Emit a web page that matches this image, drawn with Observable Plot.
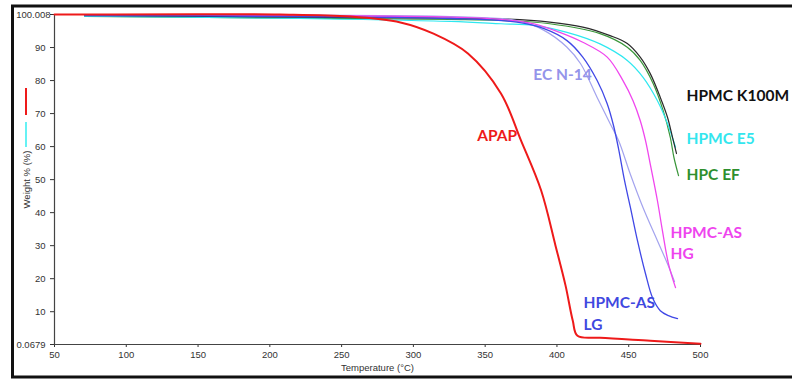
<!DOCTYPE html>
<html>
<head>
<meta charset="utf-8">
<script src="https://cdn.jsdelivr.net/npm/d3@7"></script>
<script src="https://cdn.jsdelivr.net/npm/@observablehq/plot@0.6"></script>
<style>
  html, body { margin: 0; padding: 0; background: #fff; }
  #wrap { position: relative; width: 792px; height: 380px; overflow: hidden; }
  #wrap > svg { position: absolute; left: 0; top: 0; }
</style>
</head>
<body>
<div id="wrap"></div>
<script>
// ---- data (Temperature °C, Weight %) ----
const apap = [[50,100],[207,100],[256,99.4],[291,97.6],[314,94.2],[338,88.2],[361,76.1],[375,61.8],[389,46.7],[399,30],[406,17.9],[411,7.3],[414.3,2.7],[430,2.1],[465,1.2],[500,0.3]];
const hpmcK100M = [[71,99.7],[221,99.2],[326,98.9],[361,98.7],[395,97.7],[418,96.2],[437,93.6],[449,91.2],[458,87.1],[465,82.1],[472,74.9],[477,68.9],[480.5,62.8],[483.3,57.9]];
const hpmcE5 = [[71,99.5],[221,98.8],[326,97.9],[361,97.2],[384,96.7],[407,94.6],[430,91.1],[449,86.1],[460,81],[470,73.9],[477,67],[482.6,59.8]];
const hpcEF = [[71,99.4],[221,98.9],[326,98.5],[361,98.2],[395,97.2],[430,94.2],[449,90.1],[458,86.1],[467,79.1],[474,70.9],[479,62.7],[481.5,56.7],[484.7,51.2]];
const hpmcAsHG = [[71,100],[221,99.7],[326,99.2],[361,98.5],[384,97.2],[402,94.6],[418,91.6],[435,87.1],[446,80],[453,73.9],[458,67.9],[461.7,61.8],[465.5,53.6],[470,43.6],[473.5,34.5],[477.7,24.5],[482.6,17.3]];
const hpmcAsLG = [[71,99.7],[221,99.4],[326,98.8],[372,97.7],[391,95.7],[407,92.1],[418,87.1],[428,80],[435,73],[439.4,66.4],[442.9,59.4],[447.1,49.7],[451.2,41.5],[456.1,31.5],[461.7,21.5],[466.6,14.2],[472,10.3],[477.7,8.8],[484,7.9]];
const ecN14 = [[71,100],[221,99.8],[326,99.4],[372,98.2],[391,95.2],[407,90.1],[416.5,85.1],[428,74.9],[437,67],[443,61.8],[451,51.8],[460,41.5],[470,31.5],[477,24.5],[481.9,19.1]];

const yTicks = [0.0679, 10, 20, 30, 40, 50, 60, 70, 80, 90];
const yTopTick = [100.008];
const xTicks = [50, 100, 150, 200, 250, 300, 350, 400, 450, 500];

// series: name, data, colour, width
const series = [
  {name: "HPC EF", data: hpcEF, color: "#3a963a", w: 1.2},
  {name: "HPMC E5", data: hpmcE5, color: "#2ee8f0", w: 1.2},
  {name: "HPMC K100M", data: hpmcK100M, color: "#2a2a2a", w: 1.2},
  {name: "EC N-14", data: ecN14, color: "#a3a3ee", w: 1.2},
  {name: "HPMC-AS HG", data: hpmcAsHG, color: "#f046ee", w: 1.3},
  {name: "HPMC-AS LG", data: hpmcAsLG, color: "#4048e6", w: 1.3},
  {name: "APAP", data: apap, color: "#ee1a1a", w: 2}
];

// label annotations (anchor in data units)
const labels = [
  {text: "APAP", t: 344.5, w: 63.3, color: "#ee1a1a"},
  {text: "EC N-14", t: 383.5, w: 81.8, color: "#9494ea"},
  {text: "HPMC K100M", t: 490.3, w: 75.4, color: "#111111"},
  {text: "HPMC E5", t: 490.3, w: 62.4, color: "#33e6ee"},
  {text: "HPC EF", t: 490.3, w: 51.5, color: "#2e8f2e"},
  {text: "HPMC-AS", t: 479.1, w: 33.9, color: "#ee44ee"},
  {text: "HG", t: 479.1, w: 27.6, color: "#ee44ee"},
  {text: "HPMC-AS", t: 418.5, w: 12.7, color: "#3f48e0"},
  {text: "LG", t: 418.5, w: 6.1, color: "#3f48e0"}
];

const axisStyle = {fontSize: 9.5, fill: "#333"};

const marks = [
  Plot.axisY(yTicks, {tickSize: 4, tickPadding: 5, ...axisStyle, tickFormat: d => String(d),
    label: "Weight % (%)", labelAnchor: "center", labelOffset: 31, labelArrow: false}),
  Plot.axisY(yTopTick, {tickSize: 4, tickPadding: 0, ...axisStyle, tickFormat: d => String(d), label: null}),
  Plot.axisX(xTicks, {tickSize: 3, tickPadding: 4, ...axisStyle,
    label: "Temperature (°C)", labelAnchor: "center", labelOffset: 26, labelArrow: false}),
  Plot.ruleX([50], {stroke: "#444", strokeWidth: 1.2}),
  Plot.ruleY([0.0679], {stroke: "#444", strokeWidth: 1.2}),
  ...series.map(s => Plot.line(s.data, {x: d => d[0], y: d => d[1], stroke: s.color, strokeWidth: s.w, curve: "catmull-rom"})),
  Plot.text(labels, {x: "t", y: "w", text: "text", fill: "color", textAnchor: "start",
    fontSize: 15.5, fontWeight: "bold", fontFamily: "Lato, 'Open Sans', sans-serif"})
];

const chart = Plot.plot({
  width: 792,
  height: 380,
  marginLeft: 54,
  marginRight: 92,
  marginTop: 14,
  marginBottom: 36,
  style: {fontFamily: "'Liberation Sans', Arial, sans-serif", color: "#333", background: "transparent"},
  x: {domain: [50, 500]},
  y: {domain: [0.0679, 100.008]},
  marks
});
const wrap = document.getElementById("wrap");
wrap.appendChild(chart);

// frame and legend swatches (decoration, outside plot)
const ns = "http://www.w3.org/2000/svg";
const deco = document.createElementNS(ns, "svg");
deco.setAttribute("width", 792); deco.setAttribute("height", 380);
deco.style.pointerEvents = "none";
const add = (x1, y1, x2, y2, c, w) => {
  const l = document.createElementNS(ns, "line");
  l.setAttribute("x1", x1); l.setAttribute("y1", y1); l.setAttribute("x2", x2); l.setAttribute("y2", y2);
  l.setAttribute("stroke", c); l.setAttribute("stroke-width", w);
  deco.appendChild(l);
};
add(11, 6, 792, 6, "#111", 3);
add(12.5, 5, 12.5, 378, "#111", 3);
add(11, 377, 792, 377, "#111", 3);
add(26, 88, 26, 115, "#ee1a1a", 2);
add(26, 122, 26, 147, "#33eef0", 1.5);
wrap.appendChild(deco);
</script>
</body>
</html>
